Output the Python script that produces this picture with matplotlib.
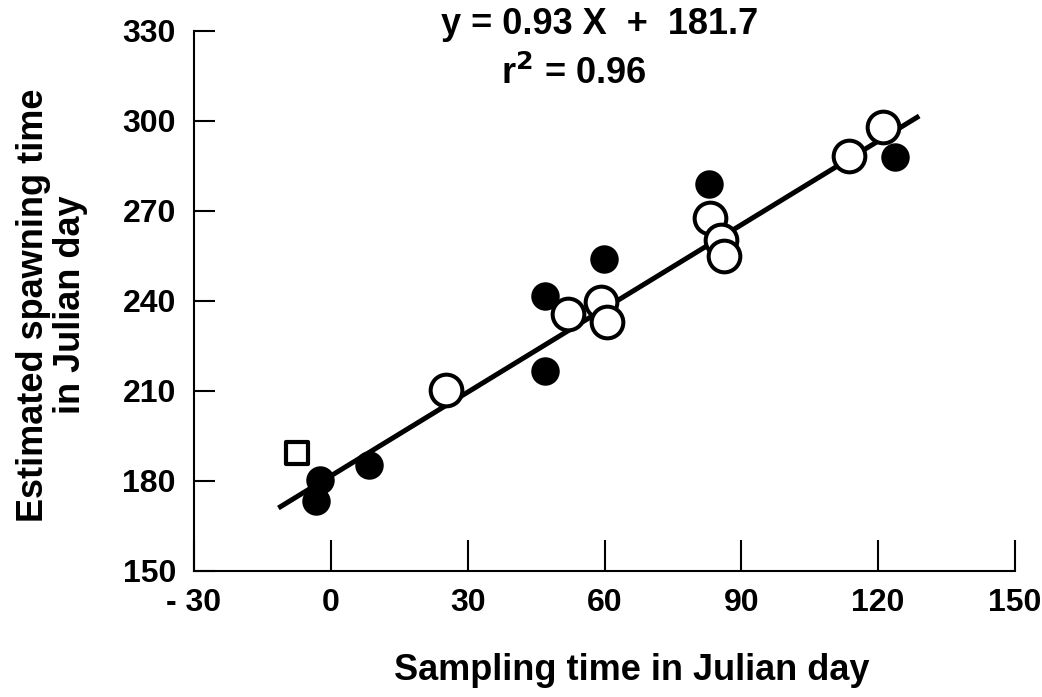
import matplotlib.pyplot as plt
import numpy as np

plt.rcParams['font.family'] = ['Liberation Sans', 'DejaVu Sans']
plt.rcParams['font.weight'] = 'bold'

# filled circles
filled_x = [-2.4, -3.3, 8.4, 47.0, 47.0, 59.8, 83.0, 123.8]
filled_y = [180.3, 173.3, 185.3, 241.7, 216.7, 254.0, 279.0, 288.0]

# open circles
open_x = [25.2, 51.9, 59.2, 60.5, 83.2, 85.5, 86.1, 113.7, 121.0]
open_y = [210.3, 235.7, 239.7, 233.0, 267.7, 260.3, 255.0, 288.3, 298.0]

# open square
square_x = [-7.5]
square_y = [189.3]

# regression line y = 0.93 X + 181.7
slope = 0.93
intercept = 181.7
line_x = np.array([-11.5, 129.0])

x_ticks = [-30, 0, 30, 60, 90, 120, 150]
x_labels = ['- 30', '0', '30', '60', '90', '120', '150']
y_ticks = [150, 180, 210, 240, 270, 300, 330]

fig = plt.figure(figsize=(10.42, 6.97), dpi=100)
ax = fig.add_axes([194 / 1042, 1 - 571 / 697, 821 / 1042, 540 / 697])

ax.plot(line_x, slope * line_x + intercept, color='black', lw=3.6,
        solid_capstyle='butt', zorder=2)
ax.scatter(filled_x, filled_y, s=420, c='black', linewidths=0, zorder=3)
ax.scatter(open_x, open_y, s=520, facecolors='white', edgecolors='black',
           linewidths=2.9, zorder=4)
ax.scatter(square_x, square_y, s=230, marker='s', facecolors='white',
           edgecolors='black', linewidths=3, zorder=4)

ax.set_xlim(-30, 150)
ax.set_ylim(150, 330)
ax.set_xticks(x_ticks)
ax.set_xticklabels(x_labels)
ax.set_yticks(y_ticks)

ax.spines['top'].set_visible(False)
ax.spines['right'].set_visible(False)
for s in ['left', 'bottom']:
    ax.spines[s].set_linewidth(1.5)
ax.tick_params(axis='x', direction='in', length=22, width=1.5, pad=12,
               labelsize=23)
ax.tick_params(axis='y', direction='in', length=15, width=1.5, pad=13,
               labelsize=23)

fig.text(632 / 1042, 1 - 671 / 697, 'Sampling time in Julian day',
         fontsize=26, fontweight='bold', ha='center', va='center')
fig.text(52 / 1042, 1 - 305 / 697, 'Estimated spawning time\nin Julian day',
         fontsize=26, fontweight='bold', ha='center', va='center',
         rotation=90, multialignment='center', linespacing=1.1)

fig.text(600 / 1042, 1 - 25 / 697, 'y = 0.93 X  +  181.7',
         fontsize=26, fontweight='bold', ha='center', va='center')
fig.text(574 / 1042, 1 - 74 / 697, 'r$^{\\mathbf{2}}$ = 0.96',
         fontsize=26, fontweight='bold', ha='center', va='center')

fig.savefig('out.png', dpi=100)
